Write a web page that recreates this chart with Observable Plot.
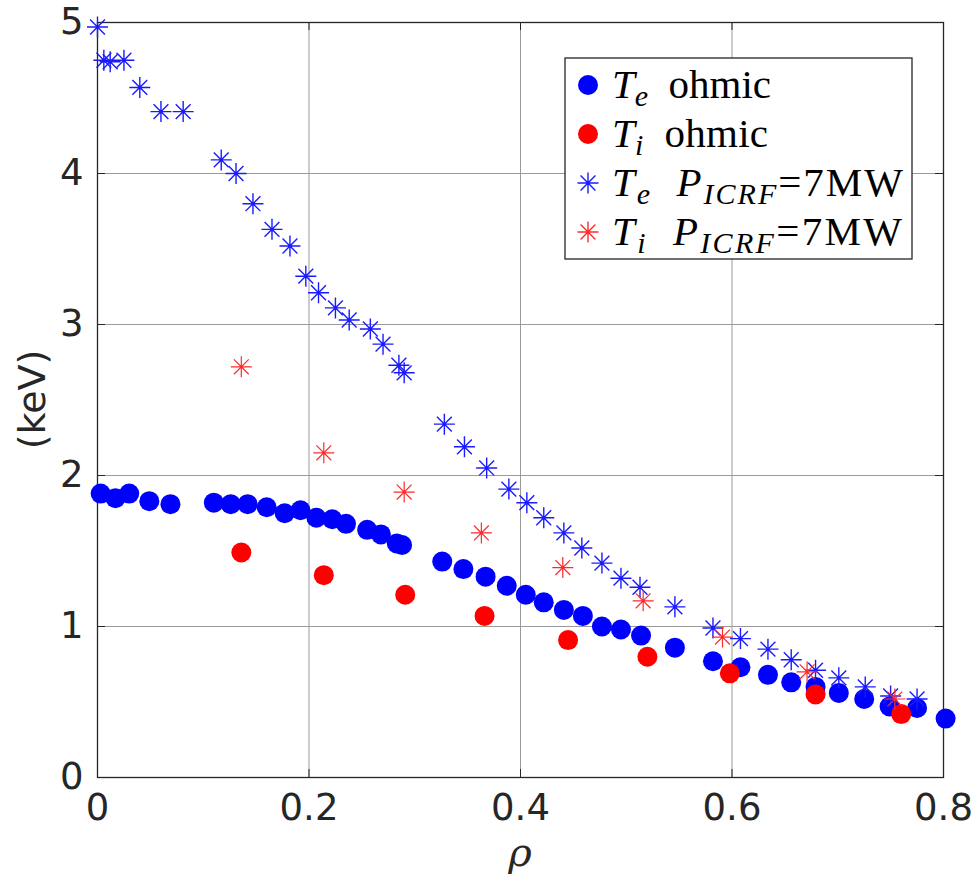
<!DOCTYPE html>
<html>
<head>
<meta charset="utf-8">
<script src="https://cdn.jsdelivr.net/npm/d3@7"></script>
<script src="https://cdn.jsdelivr.net/npm/@observablehq/plot@0.6"></script>
<style>
  html, body { margin: 0; padding: 0; background: #fff; }
  #chart { width: 974px; height: 882px; }
</style>
</head>
<body>
<div id="chart"></div>
<script>
// ---- data ----
const rhoTeOhmic = [0.003, 0.017, 0.030, 0.049, 0.069, 0.110, 0.126, 0.142, 0.160, 0.177, 0.192, 0.207, 0.222, 0.235, 0.255, 0.268, 0.283, 0.288, 0.326, 0.346, 0.367, 0.387, 0.405, 0.422, 0.441, 0.459, 0.477, 0.495, 0.514, 0.546, 0.582, 0.608, 0.634, 0.656, 0.679, 0.701, 0.725, 0.749, 0.775, 0.802];
const teOhmic    = [1.88, 1.85, 1.88, 1.83, 1.81, 1.82, 1.81, 1.81, 1.79, 1.75, 1.77, 1.72, 1.71, 1.68, 1.64, 1.61, 1.55, 1.54, 1.43, 1.38, 1.33, 1.27, 1.21, 1.16, 1.11, 1.07, 1.00, 0.98, 0.94, 0.86, 0.77, 0.73, 0.68, 0.63, 0.60, 0.56, 0.52, 0.47, 0.46, 0.39];

const rhoTiOhmic = [0.136, 0.214, 0.291, 0.366, 0.445, 0.520, 0.598, 0.679, 0.760];
const tiOhmic    = [1.49, 1.34, 1.21, 1.07, 0.91, 0.80, 0.69, 0.55, 0.42];

const rhoTeICRF = [0.000, 0.006, 0.012, 0.025, 0.040, 0.060, 0.081, 0.117, 0.131, 0.147, 0.165, 0.182, 0.197, 0.209, 0.225, 0.238, 0.258, 0.270, 0.285, 0.290, 0.328, 0.347, 0.368, 0.389, 0.406, 0.422, 0.441, 0.458, 0.477, 0.495, 0.513, 0.546, 0.582, 0.608, 0.634, 0.656, 0.679, 0.701, 0.726, 0.750, 0.775];
const teICRF    = [4.97, 4.75, 4.74, 4.75, 4.57, 4.41, 4.41, 4.09, 4.00, 3.80, 3.63, 3.52, 3.32, 3.21, 3.11, 3.03, 2.97, 2.87, 2.73, 2.68, 2.34, 2.19, 2.05, 1.91, 1.82, 1.72, 1.62, 1.52, 1.42, 1.32, 1.26, 1.13, 0.99, 0.92, 0.85, 0.78, 0.71, 0.66, 0.60, 0.54, 0.52];

const rhoTiICRF = [0.136, 0.214, 0.290, 0.363, 0.440, 0.516, 0.591, 0.671, 0.754];
const tiICRF    = [2.72, 2.15, 1.89, 1.62, 1.39, 1.17, 0.93, 0.70, 0.52];

const xTicks = [0, 0.2, 0.4, 0.6, 0.8];
const yTicks = [0, 1, 2, 3, 4, 5];
const xLabel = "ρ";
const yLabel = "(keV)";

// ---- layout / styles ----
const W = 974, H = 882;
const mL = 97, mR = 31, mT = 22, mB = 105;
const plotW = W - mL - mR, plotH = H - mT - mB;
const axisColor = "#262626";
const tickLen = 8;
const blue = "#0000ff", red = "#ff0000";
const starBlue = "#1a1aff", starRed = "#ff2a2a";

// MATLAB-like '*' marker (+ and x combined)
const starSymbol = {
  draw(context, size) {
    const r = Math.sqrt(size / Math.PI);
    const d = r * 0.707;
    context.moveTo(-r, 0); context.lineTo(r, 0);
    context.moveTo(0, -r); context.lineTo(0, r);
    context.moveTo(-d, -d); context.lineTo(d, d);
    context.moveTo(-d, d); context.lineTo(d, -d);
  }
};

const zip = (xs, ys) => xs.map((x, i) => ({x, y: ys[i]}));
const teOhmicData = zip(rhoTeOhmic, teOhmic);
const tiOhmicData = zip(rhoTiOhmic, tiOhmic);
const teICRFData = zip(rhoTeICRF, teICRF);
const tiICRFData = zip(rhoTiICRF, tiICRF);

const chart = Plot.plot({
  width: W,
  height: H,
  marginLeft: mL,
  marginRight: mR,
  marginTop: mT,
  marginBottom: mB,
  style: {fontFamily: "DejaVu Sans", background: "#fff", color: axisColor},
  x: {domain: [0, 0.8], ticks: xTicks},
  y: {domain: [0, 5], ticks: yTicks},
  marks: [
    Plot.gridX(xTicks.slice(1, -1), {stroke: "#9a9a9a", strokeOpacity: 1, strokeWidth: 1}),
    Plot.gridY(yTicks.slice(1, -1), {stroke: "#9a9a9a", strokeOpacity: 1, strokeWidth: 1}),
    // inward ticks on all four sides
    Plot.tickX(xTicks, {x: d => d, insetTop: plotH - tickLen, stroke: axisColor}),
    Plot.tickX(xTicks, {x: d => d, insetBottom: plotH - tickLen, stroke: axisColor}),
    Plot.tickY(yTicks, {y: d => d, insetRight: plotW - tickLen, stroke: axisColor}),
    Plot.tickY(yTicks, {y: d => d, insetLeft: plotW - tickLen, stroke: axisColor}),
    Plot.axisX(xTicks, {anchor: "bottom", tickSize: 0, tickPadding: 16, fontSize: 37, label: null,
      tickFormat: d => String(d), fill: axisColor}),
    Plot.axisY(yTicks, {anchor: "left", tickSize: 0, tickPadding: 14, fontSize: 37, label: null,
      tickFormat: d => String(d), fill: axisColor}),
    Plot.frame({stroke: axisColor, strokeWidth: 1.3}),
    Plot.dot(teOhmicData, {x: "x", y: "y", r: 10, fill: blue, stroke: "none"}),
    Plot.dot(tiOhmicData, {x: "x", y: "y", r: 10, fill: red, stroke: "none"}),
    Plot.dot(teICRFData, {x: "x", y: "y", r: 10.5, symbol: starSymbol, fill: "none", stroke: starBlue, strokeWidth: 1.4}),
    Plot.dot(tiICRFData, {x: "x", y: "y", r: 10.5, symbol: starSymbol, fill: "none", stroke: starRed, strokeWidth: 1.2})
  ]
});

document.getElementById("chart").appendChild(chart);

const svg = d3.select(chart);

// ---- axis labels ----
svg.append("text")
  .attr("transform", `translate(45,${mT + plotH / 2}) rotate(-90)`)
  .attr("text-anchor", "middle")
  .attr("font-family", "DejaVu Sans").attr("font-size", 38).attr("fill", axisColor)
  .text(yLabel);
svg.append("text")
  .attr("x", mL + plotW / 2).attr("y", 866)
  .attr("text-anchor", "middle")
  .attr("font-family", "DejaVu Serif").attr("font-style", "italic")
  .attr("font-size", 40).attr("fill", axisColor)
  .text(xLabel);

// ---- legend (inside the axes, top right) ----
const legendItems = [
  {kind: "dot", color: blue, width: 159, parts: [["T", "i"], ["e", "sub"], [" ohmic", "n"]]},
  {kind: "dot", color: red, width: 156, parts: [["T", "i"], ["i", "sub"], [" ohmic", "n"]]},
  {kind: "star", color: starBlue, width: 291, parts: [["T", "i"], ["e", "sub"], [" ", "n"], ["P", "i"], ["ICRF", "sub"], ["=7MW", "n"]]},
  {kind: "star", color: starRed, width: 290, parts: [["T", "i"], ["i", "sub"], [" ", "n"], ["P", "i"], ["ICRF", "sub"], ["=7MW", "n"]]}
];

const lg = svg.append("g");
const box = {x: 565, y: 58, w: 347, h: 201};
lg.append("rect").attr("x", box.x).attr("y", box.y).attr("width", box.w).attr("height", box.h)
  .attr("fill", "#fff").attr("stroke", axisColor).attr("stroke-width", 1.3);

const rowY = [85, 134, 183, 232];
legendItems.forEach((it, i) => {
  const cy = rowY[i];
  if (it.kind === "dot") {
    lg.append("circle").attr("cx", 588).attr("cy", cy).attr("r", 10).attr("fill", it.color);
  } else {
    lg.append("path").attr("transform", `translate(588,${cy})`)
      .attr("d", d3.symbol(starSymbol, Math.PI * 10.5 * 10.5)())
      .attr("fill", "none").attr("stroke", it.color).attr("stroke-width", 1.4);
  }
  const t = lg.append("text").attr("x", 612).attr("y", cy + 13)
    .attr("text-anchor", "start")
    .attr("font-family", "Liberation Serif").attr("font-size", 41).attr("fill", "#000")
    .attr("textLength", it.width).attr("lengthAdjust", "spacing")
    .style("white-space", "pre");
  it.parts.forEach(([s, k]) => {
    const ts = t.append("tspan").text(k === "n" ? s.replace(/ /g, "\u00a0\u00a0") : s);
    if (k === "i") ts.attr("font-style", "italic");
    if (k === "sub") ts.attr("font-style", "italic").attr("font-size", 30).attr("baseline-shift", "-8");
  });
});
</script>
</body>
</html>
